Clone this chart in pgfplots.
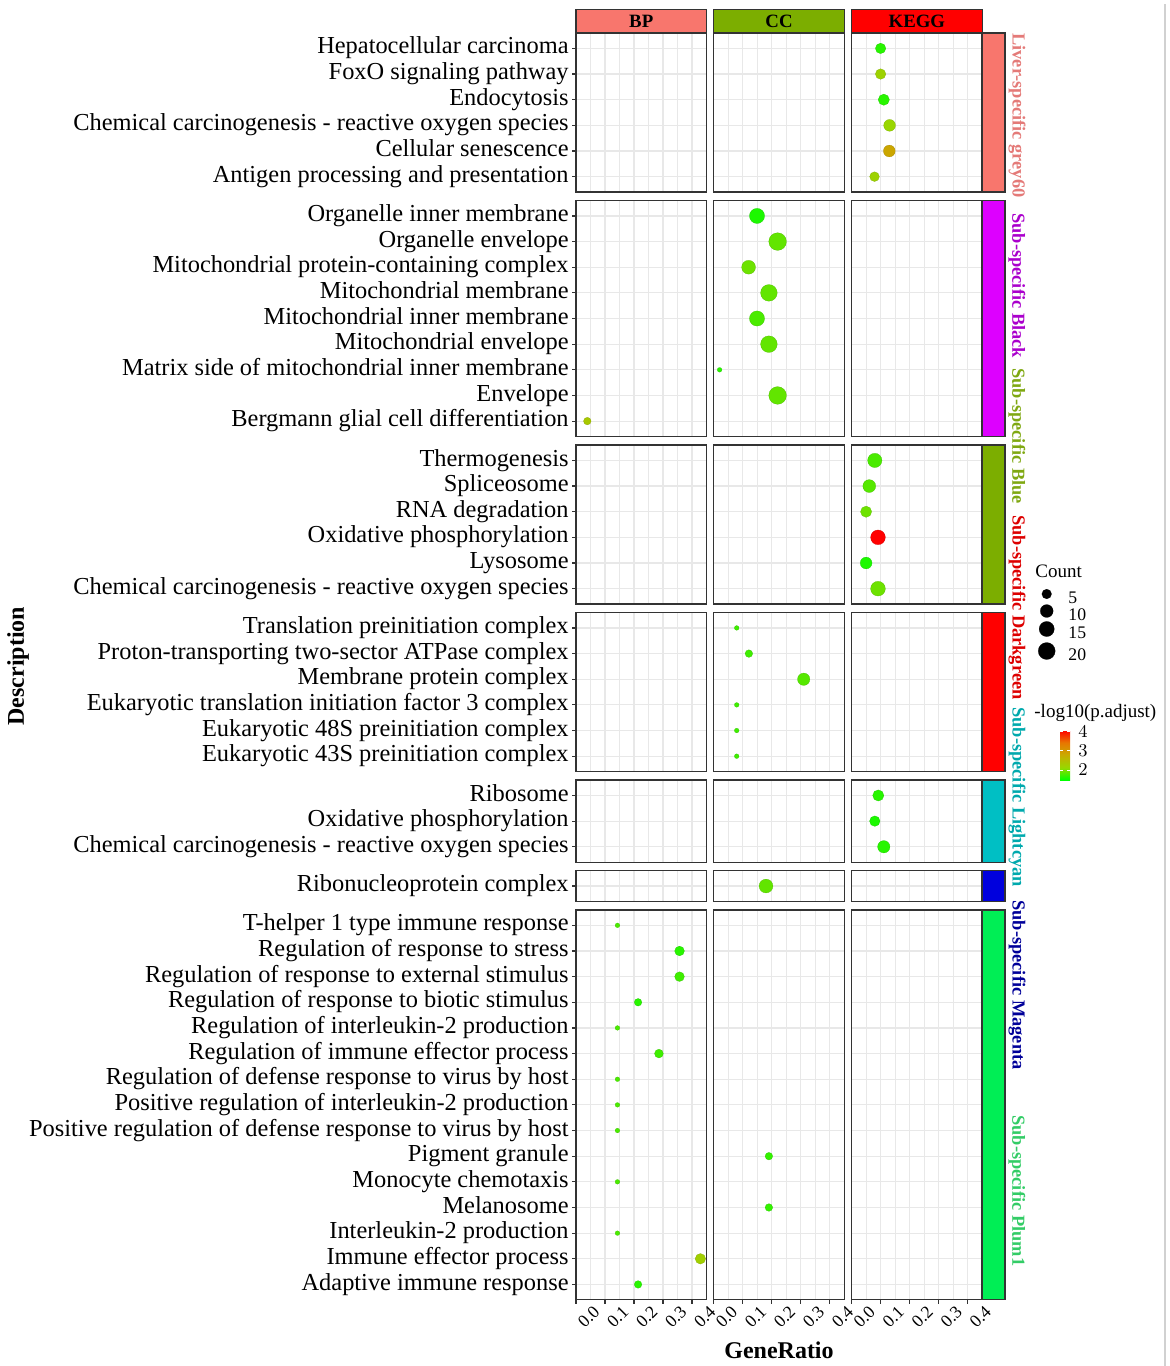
\documentclass[border=0pt]{standalone}
\usepackage{pgfplots}
\pgfplotsset{compat=1.18}
\usepackage{fontspec}
\setmainfont{Liberation Serif}
\definecolor{stBP}{HTML}{F8766D}
\definecolor{stCC}{HTML}{7CAE00}
\definecolor{stKE}{HTML}{FF0000}
\definecolor{sA}{HTML}{F8766D}\definecolor{tA}{HTML}{E47A78}
\definecolor{sB}{HTML}{DD00FF}\definecolor{tB}{HTML}{AA00CC}
\definecolor{sC}{HTML}{7CAE00}\definecolor{tC}{HTML}{7FA812}
\definecolor{sD}{HTML}{FF0000}\definecolor{tD}{HTML}{DD0000}
\definecolor{sE}{HTML}{00BFC4}\definecolor{tE}{HTML}{00A9AD}
\definecolor{sF}{HTML}{0000DD}\definecolor{tF}{HTML}{000099}
\definecolor{sG}{HTML}{00EE55}\definecolor{tG}{HTML}{33CC66}
\definecolor{brd}{HTML}{333333}
\pgfplotsset{
 colormap={blk}{color=(black) color=(black)},
 colormap={gg}{rgb255=(0,255,0) rgb255=(152,215,0) rgb255=(200,171,0) rgb255=(232,118,0) rgb255=(255,0,0)},
 pos/.style 2 args={at={({#1*0.5pt},{-#2*0.5pt})}},
 panel/.style={anchor=north west, scale only axis, width=65.25pt,
   xmin=0, xmax=0.45, y dir=reverse,
   xtick={0,0.1,0.2,0.3,0.4}, minor xtick={0.05,0.15,0.25,0.35},
   xticklabels={}, yticklabels={},
   grid=both,
   major grid style={draw=black!9, line width=0.6pt},
   minor grid style={draw=black!9, line width=0.3pt},
   axis line style={draw=brd, line width=0.65pt},
   tick align=outside, xtick pos=bottom, ytick pos=left,
   major tick length=2pt, minor tick length=0pt,
   xtick style={draw=none}, ytick style={draw=none},
   colormap name=gg,
   point meta min=1.48, point meta max=4.09,
   yticklabel style={font=\fontsize{12.2}{14}\selectfont, text height=0.75em, text depth=0.19em, inner sep=0pt, xshift=-1.5pt},
   xticklabel style={font=\fontsize{8.8}{10}\selectfont, rotate=45, anchor=center, inner sep=0pt, yshift=-9pt},
 },
 r1/.style={height=79.515pt, ymin=0.4, ymax=6.6, ytick={1,2,3,4,5,6}},
 r2/.style={height=117.99pt, ymin=0.4, ymax=9.6, ytick={1,2,3,4,5,6,7,8,9}},
 r3/.style={height=79.515pt, ymin=0.4, ymax=6.6, ytick={1,2,3,4,5,6}},
 r4/.style={height=79.515pt, ymin=0.4, ymax=6.6, ytick={1,2,3,4,5,6}},
 r5/.style={height=41.04pt, ymin=0.4, ymax=3.6, ytick={1,2,3}},
 r6/.style={height=15.39pt, ymin=0.4, ymax=1.6, ytick={1}},
 r7/.style={height=194.94pt, ymin=0.4, ymax=15.6, ytick={1,2,3,4,5,6,7,8,9,10,11,12,13,14,15}},
 left/.style={yticklabels={#1}, ytick style={draw=brd, line width=0.6pt}},
 bottom/.style={xticklabels={0.0,0.1,0.2,0.3,0.4}, xtick style={draw=brd, line width=0.6pt}},
 dots/.style={scatter, only marks, mark=*, point meta=explicit,
   visualization depends on={0.25*(4.7+2.9*sqrt(max(\thisrow{c}-2,0))) \as \msize},
   scatter/@pre marker code/.append style={/tikz/mark size=\msize},
   mark options={line width=0.1pt}},
}
\begin{document}
\begin{tikzpicture}
\path[use as bounding box] (0pt,0pt) rectangle (585pt,-683pt);
% ---------- Row 1 : Liver-specific grey60
\begin{axis}[panel,r1,pos={576}{33},left={Hepatocellular carcinoma,FoxO signaling pathway,Endocytosis,Chemical carcinogenesis - reactive oxygen species,Cellular senescence,Antigen processing and presentation}]
\end{axis}
\begin{axis}[panel,r1,pos={713.8}{33}]
\end{axis}
\begin{axis}[panel,r1,pos={851.6}{33}]
\addplot[dots] table[x=r,y=i,meta=p,row sep=\\]{i r c p\\1 0.100 6 1.65\\2 0.100 6 2.2\\3 0.111 7 1.65\\4 0.131 8 2.15\\5 0.130 8 2.85\\6 0.079 5 2.2\\};
\end{axis}
% ---------- Row 2 : Black
\begin{axis}[panel,r2,pos={576}{200.53},left={Organelle inner membrane,Organelle envelope,Mitochondrial protein-containing complex,Mitochondrial membrane,Mitochondrial inner membrane,Mitochondrial envelope,Matrix side of mitochondrial inner membrane,Envelope,Bergmann glial cell differentiation}]
\addplot[dots] table[x=r,y=i,meta=p,row sep=\\]{i r c p\\9 0.039 3 2.35\\};
\end{axis}
\begin{axis}[panel,r2,pos={713.8}{200.53}]
\addplot[dots] table[x=r,y=i,meta=p,row sep=\\]{i r c p\\1 0.149 15 1.6\\2 0.220 22 1.9\\3 0.120 12 1.95\\4 0.190 19 1.9\\5 0.149 15 1.8\\6 0.190 19 1.9\\7 0.020 2 1.65\\8 0.220 22 1.9\\};
\end{axis}
\begin{axis}[panel,r2,pos={851.6}{200.53}]
\end{axis}
% ---------- Row 3 : Blue
\begin{axis}[panel,r3,pos={576}{445.01},left={Thermogenesis,Spliceosome,RNA degradation,Oxidative phosphorylation,Lysosome,Chemical carcinogenesis - reactive oxygen species}]
\end{axis}
\begin{axis}[panel,r3,pos={713.8}{445.01}]
\end{axis}
\begin{axis}[panel,r3,pos={851.6}{445.01}]
\addplot[dots] table[x=r,y=i,meta=p,row sep=\\]{i r c p\\1 0.080 13 1.8\\2 0.061 10 1.85\\3 0.050 7 1.95\\4 0.091 14 4.09\\5 0.050 8 1.6\\6 0.091 14 1.95\\};
\end{axis}
% ---------- Row 4 : Darkgreen
\begin{axis}[panel,r4,pos={576}{612.54},left={Translation preinitiation complex,Proton-transporting two-sector ATPase complex,Membrane protein complex,Eukaryotic translation initiation factor 3 complex,Eukaryotic 48S preinitiation complex,Eukaryotic 43S preinitiation complex}]
\end{axis}
\begin{axis}[panel,r4,pos={713.8}{612.54}]
\addplot[dots] table[x=r,y=i,meta=p,row sep=\\]{i r c p\\1 0.079 2 1.75\\2 0.121 3 1.75\\3 0.310 9 1.85\\4 0.079 2 1.75\\5 0.079 2 1.75\\6 0.079 2 1.75\\};
\end{axis}
\begin{axis}[panel,r4,pos={851.6}{612.54}]
\end{axis}
% ---------- Row 5 : Lightcyan
\begin{axis}[panel,r5,pos={576}{780.07},left={Ribosome,Oxidative phosphorylation,Chemical carcinogenesis - reactive oxygen species}]
\end{axis}
\begin{axis}[panel,r5,pos={713.8}{780.07}]
\end{axis}
\begin{axis}[panel,r5,pos={851.6}{780.07}]
\addplot[dots] table[x=r,y=i,meta=p,row sep=\\]{i r c p\\1 0.092 7 1.65\\2 0.080 6 1.6\\3 0.111 9 1.65\\};
\end{axis}
% ---------- Row 6 : Magenta
\begin{axis}[panel,r6,pos={576}{870.65},left={Ribonucleoprotein complex}]
\end{axis}
\begin{axis}[panel,r6,pos={713.8}{870.65}]
\addplot[dots] table[x=r,y=i,meta=p,row sep=\\]{i r c p\\1 0.180 12 1.9\\};
\end{axis}
\begin{axis}[panel,r6,pos={851.6}{870.65}]
\end{axis}
% ---------- Row 7 : Plum1
\begin{axis}[panel,r7,bottom,pos={576}{909.93},left={T-helper 1 type immune response,Regulation of response to stress,Regulation of response to external stimulus,Regulation of response to biotic stimulus,Regulation of interleukin-2 production,Regulation of immune effector process,Regulation of defense response to virus by host,Positive regulation of interleukin-2 production,Positive regulation of defense response to virus by host,Pigment granule,Monocyte chemotaxis,Melanosome,Interleukin-2 production,Immune effector process,Adaptive immune response}]
\addplot[dots] table[x=r,y=i,meta=p,row sep=\\]{i r c p\\1 0.143 2 1.8\\2 0.357 5 1.65\\3 0.357 5 1.75\\4 0.214 3 1.65\\5 0.143 2 1.8\\6 0.286 4 1.75\\7 0.143 2 1.8\\8 0.143 2 1.8\\9 0.143 2 1.8\\11 0.143 2 1.8\\13 0.143 2 1.8\\14 0.429 6 2.25\\15 0.214 3 1.65\\};
\end{axis}
\begin{axis}[panel,r7,bottom,pos={713.8}{909.93}]
\addplot[dots] table[x=r,y=i,meta=p,row sep=\\]{i r c p\\10 0.190 3 1.7\\12 0.190 3 1.7\\};
\end{axis}
\begin{axis}[panel,r7,bottom,pos={851.6}{909.93}]
\end{axis}
% ---------- Size legend
\begin{axis}[pos={1000}{550}, anchor=north west, scale only axis, width=50pt, height=60pt,
  xmin=1000, xmax=1100, ymin=550, ymax=670, y dir=reverse, hide axis, clip=false,
  colormap name=blk]
\addplot[scatter, only marks, mark=*, point meta=explicit,
   visualization depends on={0.25*(4.7+2.9*sqrt(max(\thisrow{c}-2,0))) \as \msize},
   scatter/@pre marker code/.append style={/tikz/mark size=\msize},
   mark options={line width=0.1pt}]
 table[x=x,y=y,meta=c,row sep=\\]{x y c\\1046.7 594 5\\1046.7 611 10\\1046.7 629 15\\1046.7 651 20\\};
\addplot[only marks, mark=none, point meta=explicit symbolic, nodes near coords,
   nodes near coords style={anchor=west, inner sep=0pt, xshift=10.65pt, yshift=-2pt, text=black, font=\fontsize{8.85}{10}\selectfont}]
 table[x=x,y=y,meta=c,row sep=\\]{x y c\\1046.7 594 5\\1046.7 611 10\\1046.7 629 15\\1046.7 651 20\\};
\end{axis}
% ---------- Colour bar
\begin{axis}[pos={1043}{730}, anchor=north west, scale only axis, width=5pt, height=25pt,
  hide axis, xmin=0, xmax=1, ymin=0, ymax=1, colormap name=gg, point meta min=1.48, point meta max=4.09,
  colorbar, colorbar style={at={(parent axis.north west)}, anchor=north west,
   scale only axis, width=5pt, height=25pt, ytick={2,3,4}, yticklabel pos=right,
   yticklabel style={font=\bfseries\fontsize{9}{10}\selectfont, inner sep=0pt, xshift=4pt},
   axis line style={draw=none}, major tick length=1.5pt, tick align=inside,
   ytick style={draw=white, line width=0.5pt}}]
\end{axis}
% ---------- strips, titles
\begin{scope}[x=0.5pt,y=-0.5pt]
 \draw[black!18, line width=1.1pt] (1165,4) -- (1165,1366);
 \foreach \xa/\xb/\c/\t in {576/706.5/stBP/BP, 713.8/844.3/stCC/CC, 851.6/982.1/stKE/KEGG}{
   \draw[fill=\c, draw=brd, line width=0.6pt] (\xa,9.3) rectangle (\xb,33);
   \node[font=\bfseries\fontsize{9.4}{11}\selectfont, anchor=base] at ({(\xa+\xb)/2},27.5) {\t};
 }
 \foreach \ya/\yb/\c in {33/192.03/sA, 200.53/436.51/sB, 445.01/604.04/sC, 612.54/771.57/sD, 780.07/862.15/sE, 870.65/901.43/sF, 909.93/1299.81/sG}{
   \draw[fill=\c, draw=brd, line width=0.6pt] (982.1,\ya) rectangle (1005,\yb);
 }
 \foreach \y/\c/\t in {33/tA/Liver-specific grey60, 213/tB/Sub-specific Black, 368/tC/Sub-specific Blue, 515/tD/Sub-specific Darkgreen, 707/tE/Sub-specific Lightcyan, 900/tF/Sub-specific Magenta, 1115/tG/Sub-specific Plum1}{
   \node[rotate=-90, anchor=west, inner sep=0pt, text=\c, font=\bfseries\fontsize{9.2}{11}\selectfont] at (1017,\y) {\t};
 }
 \node[anchor=base, font=\bfseries\fontsize{12}{14}\selectfont] at (779,1358) {GeneRatio};
 \node[rotate=90, anchor=base, font=\bfseries\fontsize{12}{14}\selectfont] at (24,666) {Description};
 \node[anchor=base west, inner sep=0pt, font=\fontsize{9.5}{11}\selectfont] at (1035,577.3) {Count};
 \node[anchor=base west, inner sep=0pt, font=\fontsize{9.5}{11}\selectfont] at (1034,717) {-log10(p.adjust)};
\end{scope}
\end{tikzpicture}
\end{document}
